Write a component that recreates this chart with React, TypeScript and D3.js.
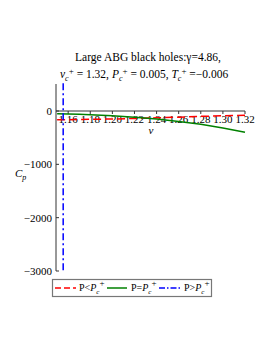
import React from "react";
import { scaleLinear, line } from "d3";

// values
const xTicks = [1.16, 1.18, 1.2, 1.22, 1.24, 1.26, 1.28, 1.3, 1.32];
const yTicks = [0, -1000, -2000, -3000];
const redV = [1.15, 1.17, 1.2, 1.22, 1.24, 1.26, 1.28, 1.3, 1.32];
const redCp = [-165, -160, -150, -140, -128, -115, -100, -90, -80];
const greenV = [1.15, 1.17, 1.2, 1.22, 1.24, 1.26, 1.28, 1.3, 1.32];
const greenCp = [-50, -62, -90, -115, -150, -195, -250, -320, -400];
const blueV = [1.1555, 1.1555];
const blueCp = [520, -3000];

const W = 274;
const H = 355;
const FONT = "'Liberation Serif', 'DejaVu Serif', serif";

// symbol with subscript c and superscript +
const Crit: React.FC<{ s: string }> = ({ s }) => (
  <>
    <tspan fontStyle="italic">{s}</tspan>
    <tspan fontSize={8} fontStyle="italic" dy={3}>c</tspan>
    <tspan fontSize={9} dy={-7}>+</tspan>
    <tspan dy={4}>{" "}</tspan>
  </>
);

const App: React.FC = () => {
  const x = scaleLinear().domain([1.149, 1.32]).range([56, 245]);
  const y = scaleLinear().domain([-3000, 0]).range([271, 111]);
  const path = line<[number, number]>()
    .x((d) => x(d[0]))
    .y((d) => y(d[1]));
  const zip = (a: number[], b: number[]) =>
    a.map((v, i) => [v, b[i]] as [number, number]);

  const legend = [
    { color: "#ff0000", dash: "6,3", label: "P<", x0: 55, x1: 76, tx: 79 },
    { color: "#008000", dash: "", label: "P=", x0: 107, x1: 127, tx: 131 },
    { color: "#0000ff", dash: "6,2,1.5,2", label: "P>", x0: 159, x1: 180, tx: 184 },
  ];

  return (
    <svg
      width={W}
      height={H}
      style={{ position: "absolute", left: 0, top: 0, background: "white" }}
      fontFamily={FONT}
    >
      {/* title */}
      <text x={148} y={61} fontSize={11.5} textAnchor="middle">
        Large ABG black holes:γ=4.86,
      </text>
      <text x={60} y={78} fontSize={11.5}>
        <Crit s="v" />
        <tspan>= 1.32, </tspan>
        <Crit s="P" />
        <tspan>= 0.005, </tspan>
        <Crit s="T" />
        <tspan>=−0.006</tspan>
      </text>

      {/* axes */}
      <line x1={56} x2={56} y1={84} y2={y(-3000)} stroke="#333" strokeWidth={1} />
      <line x1={56} x2={x(1.32)} y1={y(0)} y2={y(0)} stroke="#333" strokeWidth={1} />
      {yTicks.map((t) => (
        <g key={t}>
          <line x1={56} x2={59} y1={y(t)} y2={y(t)} stroke="#333" />
          <text x={52} y={y(t) + 4} fontSize={11} textAnchor="end">
            {t === 0 ? "0" : "−" + Math.abs(t)}
          </text>
        </g>
      ))}
      {xTicks.map((t) => (
        <g key={t}>
          <line x1={x(t)} x2={x(t)} y1={y(0)} y2={y(0) + 3} stroke="#333" />
          <text x={x(t)} y={y(0) + 12} fontSize={11} textAnchor="middle">
            {t.toFixed(2)}
          </text>
        </g>
      ))}
      <text x={151} y={134} fontSize={11} fontStyle="italic" textAnchor="middle">
        v
      </text>
      <text x={15} y={177} fontSize={11} fontStyle="italic">
        C<tspan fontSize={8} dy={3}>p</tspan>
      </text>

      {/* series */}
      <path d={path(zip(redV, redCp)) || ""} fill="none" stroke="#ff0000" strokeWidth={1.5} strokeDasharray="8,4" />
      <path d={path(zip(greenV, greenCp)) || ""} fill="none" stroke="#008000" strokeWidth={1.5} />
      <path d={path(zip(blueV, blueCp)) || ""} fill="none" stroke="#0000ff" strokeWidth={1.5} strokeDasharray="7,3,2,3" />

      {/* legend */}
      <rect x={52.5} y={279.5} width={159} height={17} fill="white" stroke="#777" strokeWidth={1.2} />
      {legend.map((l) => (
        <g key={l.label}>
          <line x1={l.x0} x2={l.x1} y1={288} y2={288} stroke={l.color} strokeWidth={1.5} strokeDasharray={l.dash} />
          <text x={l.tx} y={291} fontSize={10}>
            {l.label}
            <tspan fontStyle="italic">P</tspan>
            <tspan fontSize={7} fontStyle="italic" dy={3}>c</tspan>
            <tspan fontSize={9} dy={-8}>+</tspan>
          </text>
        </g>
      ))}
    </svg>
  );
};

export default App;
